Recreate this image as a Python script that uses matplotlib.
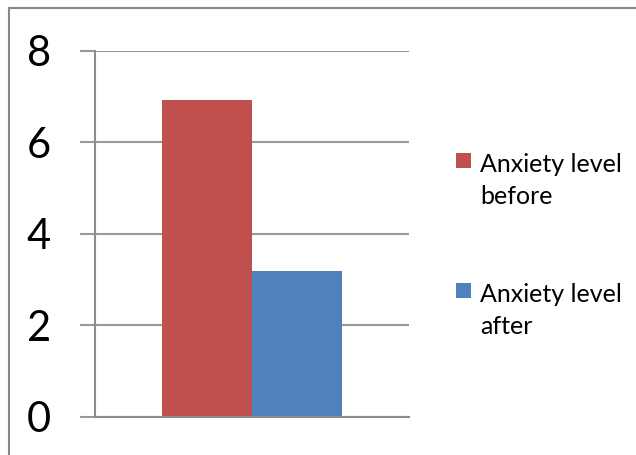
import matplotlib
matplotlib.use("Agg")
import matplotlib.pyplot as plt
from matplotlib.patches import Rectangle

# ---- data ----
categories = [""]
series_names = ["Anxiety level\nbefore", "Anxiety level\nafter"]
series_values = [[6.92], [3.18]]
series_colors = ["#C0504D", "#4F81BD"]
yticks = [0, 2, 4, 6, 8]

W, H = 636, 455
DPI = 100
plt.rcParams['font.family'] = ['Lato', 'DejaVu Sans']

fig = plt.figure(figsize=(W / DPI, H / DPI), dpi=DPI)
fig.patch.set_facecolor("white")

def fx(px):
    return px / W

def fy(py):
    return (H - py) / H

# chart border (only top/left visible in reference)
fig.patches.append(Rectangle((fx(9), fy(H + 20)), 1.0, fy(8) - fy(H + 20),
                             transform=fig.transFigure, fill=False,
                             edgecolor="#888888", linewidth=1.5, zorder=0))

ax = fig.add_axes([fx(95), fy(416.7), fx(409) - fx(95), fy(50.7) - fy(416.7)])
ax.set_facecolor("none")

n = len(series_values)
bar_w = 90 / 314
for i, (vals, col) in enumerate(zip(series_values, series_colors)):
    offs = (i - (n - 1) / 2) * bar_w
    xs = [c + offs for c in range(len(categories))]
    ax.bar(xs, vals, width=bar_w, color=col, zorder=3, linewidth=0)

ax.set_xlim(-0.5, len(categories) - 0.5)
ax.set_ylim(0, 8)
ax.set_yticks(yticks)
ax.set_yticklabels([str(t) for t in yticks], fontsize=30)
ax.set_xticks([])
ax.yaxis.grid(True, color="#999999", linewidth=1.5, zorder=1)
ax.tick_params(axis='y', length=10.8, width=1.5, color="#999999", pad=21, direction='out')
for s in ["top", "right"]:
    ax.spines[s].set_visible(False)
ax.spines["left"].set_color("#8c8c8c")
ax.spines["left"].set_linewidth(1.5)
ax.spines["bottom"].set_color("#8c8c8c")
ax.spines["bottom"].set_linewidth(1.5)
ax.spines["bottom"].set_zorder(4)

# legend (manual, Excel-style wrapped labels)
leg_first_baseline = [172, 302]
line_gap = 32
for name, col, base in zip(series_names, series_colors, leg_first_baseline):
    fig.patches.append(Rectangle((fx(456), fy(base - 4)), fx(15), fy(0) - fy(15),
                                 transform=fig.transFigure, facecolor=col,
                                 edgecolor="none"))
    for k, line in enumerate(name.split("\n")):
        fig.text(fx(480), fy(base + k * line_gap), line, fontsize=18,
                 va="baseline", ha="left", color="black")

fig.savefig("out.png", dpi=DPI)
